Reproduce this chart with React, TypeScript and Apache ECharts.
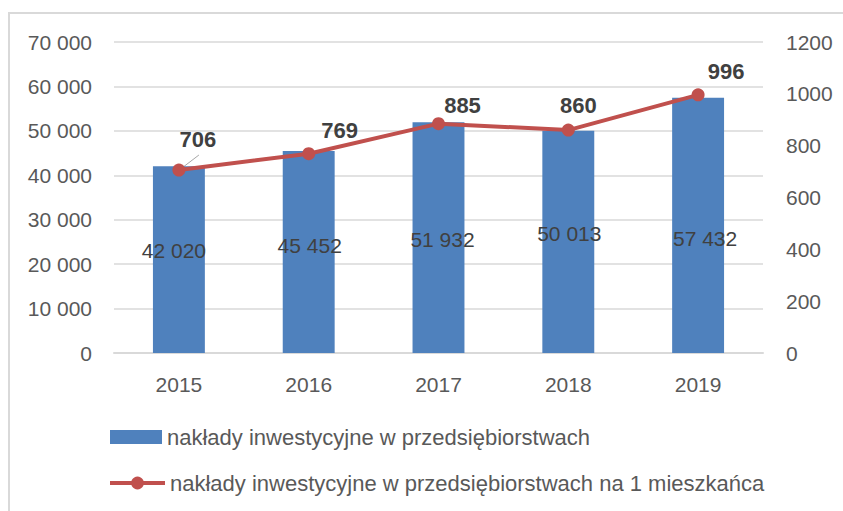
import React, { useEffect, useRef } from "react";
import * as echarts from "echarts";

const categories = ["2015", "2016", "2017", "2018", "2019"];
const investments = [42020, 45452, 51932, 50013, 57432];
const perCapita = [706, 769, 885, 860, 996];
const seriesNames = [
  "nakłady inwestycyjne w przedsiębiorstwach",
  "nakłady inwestycyjne w przedsiębiorstwach na 1 mieszkańca",
];

// label placement tweaks (pixels), matching the manually placed labels of the original
const barLabelOffsets = [[-5, -9], [1, -7], [4, 2], [1, -8], [7, 13]];
const lineLabelOffsets = [[19, -31], [31, -23], [24, -18], [10, -25], [28, -23]];

const FONT = "'Liberation Sans', Arial, sans-serif";
const fmt = (v: number) => String(v).replace(/\B(?=(\d{3})+(?!\d))/g, " ");

export default function App() {
  const ref = useRef<HTMLDivElement>(null);
  useEffect(() => {
    if (!ref.current) return;
    const chart = echarts.init(ref.current, undefined, { renderer: "svg" });
    chart.setOption({
      animation: false,
      backgroundColor: "#ffffff",
      textStyle: { fontFamily: FONT },
      grid: { left: 114, right: 80, top: 42, bottom: 158 },
      legend: [
        {
          data: [seriesNames[0]],
          left: 110,
          top: 426,
          padding: 0,
          itemWidth: 52,
          itemHeight: 14,
          itemGap: 6,
          icon: "rect",
          textStyle: { fontSize: 22, color: "#595959", fontFamily: FONT },
        },
        {
          data: [seriesNames[1]],
          left: 108,
          top: 472,
          padding: 0,
          itemWidth: 55,
          itemHeight: 16,
          lineStyle: { width: 4 },
          textStyle: { fontSize: 22, color: "#595959", fontFamily: FONT },
        },
      ],
      xAxis: {
        type: "category",
        data: categories,
        axisTick: { show: false },
        axisLine: { lineStyle: { color: "#d9d9d9", width: 2 } },
        axisLabel: { color: "#595959", fontSize: 21, margin: 21, fontFamily: FONT },
      },
      yAxis: [
        {
          type: "value",
          min: 0,
          max: 70000,
          interval: 10000,
          axisLine: { show: false },
          axisTick: { show: false },
          splitLine: { lineStyle: { color: "#d9d9d9", width: 1.5 } },
          axisLabel: {
            color: "#595959",
            fontSize: 21,
            margin: 22,
            fontFamily: FONT,
            formatter: (v: number) => fmt(v),
          },
        },
        {
          type: "value",
          min: 0,
          max: 1200,
          interval: 200,
          axisLine: { show: false },
          axisTick: { show: false },
          splitLine: { show: false },
          axisLabel: {
            color: "#595959",
            fontSize: 21,
            margin: 23,
            fontFamily: FONT,
            formatter: (v: number) => String(v),
          },
        },
      ],
      series: [
        {
          name: seriesNames[0],
          type: "bar",
          yAxisIndex: 0,
          barWidth: "40%",
          itemStyle: { color: "#4f81bd" },
          data: investments.map((v, i) => ({
            value: v,
            label: { offset: barLabelOffsets[i] },
          })),
          label: {
            show: true,
            position: "inside",
            color: "#404040",
            fontSize: 21,
            fontFamily: FONT,
            formatter: (p: any) => fmt(p.value),
          },
        },
        {
          name: seriesNames[1],
          type: "line",
          yAxisIndex: 1,
          symbol: "circle",
          symbolSize: 13,
          lineStyle: { color: "#c0504d", width: 4 },
          itemStyle: { color: "#c0504d" },
          data: perCapita.map((v, i) => ({
            value: v,
            label: { offset: lineLabelOffsets[i] },
          })),
          label: {
            show: true,
            position: "inside",
            color: "#404040",
            fontSize: 22,
            fontWeight: "bold",
            fontFamily: FONT,
          },
        },
      ],
    });
    const p = chart.convertToPixel({ seriesIndex: 1 }, [0, perCapita[0]]) as number[];
    chart.setOption({
      graphic: [
        {
          type: "rect",
          shape: { x: 9, y: 13, width: 900, height: 600 },
          style: { fill: "none", stroke: "#d9d9d9", lineWidth: 2 },
          silent: true,
        },
        {
          type: "line",
          shape: { x1: p[0] + 3, y1: p[1] - 2, x2: p[0] + 20, y2: p[1] - 15 },
          style: { stroke: "#a6a6a6", lineWidth: 1 },
          silent: true,
        },
      ],
    });
    return () => chart.dispose();
  }, []);
  return (
    <div style={{ position: "absolute", left: 0, top: 0, width: 843, height: 511 }}>
      <div ref={ref} style={{ width: 843, height: 511 }} />
    </div>
  );
}
